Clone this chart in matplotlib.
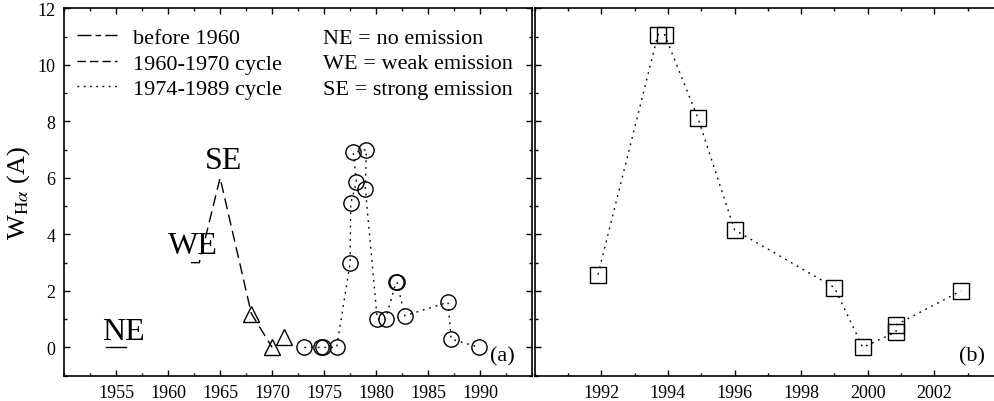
import matplotlib
matplotlib.use("Agg")
import matplotlib.pyplot as plt
from matplotlib.lines import Line2D
from matplotlib.ticker import MultipleLocator

plt.rcParams['font.family'] = ['Liberation Serif', 'DejaVu Serif']
plt.rcParams['mathtext.fontset'] = 'stix'

# --- 데이터 ---
# before 1960 (NE)
ne_year = [1954.0, 1956.0]
ne_w = [0.0, 0.0]

# 1960-1970 cycle (dashed)
c60_year = [1962.2, 1963.0, 1965.0, 1968.0, 1970.0]
c60_w = [3.0, 3.0, 6.0, 1.2, 0.0]
tri_year = [1968.0, 1970.0, 1971.1]
tri_w = [1.2, 0.0, 0.38]

# 1974-1989 cycle (dotted, circles)
c74_year = [1973.1, 1974.7, 1974.9, 1976.2, 1977.5, 1977.55, 1978.1, 1977.8,
            1979.05, 1978.96, 1980.1, 1980.9, 1981.9, 1982.0, 1982.75,
            1986.9, 1987.2, 1989.9]
c74_w = [0.0, 0.0, 0.0, 0.0, 3.0, 5.1, 5.85, 6.9,
         7.0, 5.6, 1.0, 1.0, 2.3, 2.3, 1.12,
         1.6, 0.3, 0.0]

# panel (b) squares
b_year = [1991.9, 1993.7, 1993.9, 1994.9, 1996.0, 1999.0, 1999.85,
          2000.85, 2000.85, 2002.8]
b_w = [2.58, 11.07, 11.07, 8.12, 4.16, 2.12, 0.0, 0.55, 0.8, 2.0]

fig = plt.figure(figsize=(9.95, 4.02), dpi=100)
ax1 = fig.add_axes([64 / 995, 25.3 / 402, 468.3 / 995, 367.4 / 402])
ax2 = fig.add_axes([534.7 / 995, 25.3 / 402, 466.3 / 995, 367.4 / 402])

# --- (a) ---
ax1.plot(ne_year, ne_w, '-', color='black', lw=1.0)
ax1.plot(c60_year, c60_w, color='black', lw=1.0, dashes=(8, 4))
ax1.plot(tri_year, tri_w, '^', ms=12, mfc='none', mec='black', mew=1.0)
ax1.plot(c74_year, c74_w, color='black', lw=1.0, dashes=(1.3, 3.5),
         marker='o', ms=11, mfc='none', mec='black', mew=1.0)

ax1.text(1965.3, 6.6, 'SE', fontsize=23, ha='center', va='center')
ax1.text(1962.4, 3.6, 'WE', fontsize=23, ha='center', va='center')
ax1.text(1955.7, 0.55, 'NE', fontsize=23, ha='center', va='center')
ax1.text(1992.1, -0.3, '(a)', fontsize=16, ha='center', va='center')

handles = [Line2D([], [], color='black', lw=1.0, dashes=(10, 3, 4, 3)),
           Line2D([], [], color='black', lw=1.0, dashes=(6, 3)),
           Line2D([], [], color='black', lw=1.0, dashes=(1.3, 3.2))]
ax1.legend(handles, ['before 1960', '1960-1970 cycle', '1974-1989 cycle'],
           loc='upper left', bbox_to_anchor=(-0.005, 0.99), frameon=False,
           fontsize=16, handlelength=1.8, handletextpad=0.7,
           labelspacing=0.22, borderaxespad=0.3)
for yy, s in zip([0.919, 0.849, 0.779],
                 ['NE = no emission', 'WE = weak emission', 'SE = strong emission']):
    ax1.text(0.554, yy, s, transform=ax1.transAxes, fontsize=16, va='center')

ax1.set_xlim(1950, 1995)
ax1.set_ylim(-1, 12)
ax1.xaxis.set_major_locator(MultipleLocator(5))
ax1.xaxis.set_minor_locator(MultipleLocator(2.5))
ax1.yaxis.set_major_locator(MultipleLocator(2))
ax1.yaxis.set_minor_locator(MultipleLocator(1))
ax1.set_xticks([1955, 1960, 1965, 1970, 1975, 1980, 1985, 1990])
ax1.set_ylabel(r'W$_{\mathrm{H}\alpha}$ (A)', fontsize=19, labelpad=4)

# --- (b) ---
ax2.plot(b_year, b_w, color='black', lw=1.0, dashes=(1.3, 3.5),
         marker='s', ms=11.5, mfc='none', mec='black', mew=1.0)
ax2.text(2003.12, -0.3, '(b)', fontsize=16, ha='center', va='center')
ax2.set_xlim(1990, 2004)
ax2.set_ylim(-1, 12)
ax2.xaxis.set_major_locator(MultipleLocator(2))
ax2.xaxis.set_minor_locator(MultipleLocator(1))
ax2.yaxis.set_major_locator(MultipleLocator(2))
ax2.yaxis.set_minor_locator(MultipleLocator(1))
ax2.set_xticks([1992, 1994, 1996, 1998, 2000, 2002])
ax2.tick_params(labelleft=False)

for ax in (ax1, ax2):
    ax.tick_params(which='both', direction='in', top=True, right=True,
                   labelsize=13, width=1.0)
    ax.tick_params(which='major', length=4, pad=6)
    ax.tick_params(which='minor', length=2)
    for sp in ax.spines.values():
        sp.set_linewidth(1.2)

fig.savefig('out.png', dpi=100)
